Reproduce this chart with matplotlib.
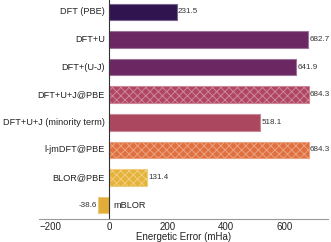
import numpy as np
import matplotlib
matplotlib.use("Agg")
import matplotlib.pyplot as plt
from matplotlib.colors import to_rgb

plt.rcParams['font.family'] = ['Liberation Sans', 'DejaVu Sans']
plt.rcParams['hatch.color'] = 'white'
plt.rcParams['hatch.linewidth'] = 0.7

methods = ["DFT (PBE)", "DFT+U", "DFT+(U-J)", "DFT+U+J@PBE",
           "DFT+U+J (minority term)", "l-jmDFT@PBE", "BLOR@PBE", "mBLOR"]
errors = [231.5, 682.7, 641.9, 684.3, 518.1, 684.3, 131.4, -38.6]
colors = ["#2f1450", "#6b2761", "#6b2761", "#b04662",
          "#ab485f", "#e0703f", "#e6b33a", "#e1ad38"]
hatches = [None, None, None, "xxxx", None, "xxxx", "xxxx", None]

fig = plt.figure(figsize=(3.31, 2.42), dpi=100)
ax = fig.add_axes([39 / 331, 1 - 219 / 242, (328 - 39) / 331, 219 / 242])

y = np.arange(len(methods))
for i in range(len(methods)):
    c = np.array(to_rgb(colors[i]))
    edge = c + (1 - c) * 0.35
    ax.barh(y[i], errors[i], height=0.6, color=colors[i], edgecolor=edge,
            linewidth=0.8, hatch=hatches[i])
    if errors[i] >= 0:
        ax.text(-14, y[i], methods[i], ha='right', va='center', fontsize=6.6, color='#222222')
        ax.text(errors[i] + 4, y[i], f"{errors[i]:.1f}", ha='left', va='center',
                fontsize=5.8, color='#333333')
    else:
        ax.text(14, y[i], methods[i], ha='left', va='center', fontsize=6.6, color='#222222')
        ax.text(errors[i] - 4, y[i], f"{errors[i]:.1f}", ha='right', va='center',
                fontsize=5.8, color='#333333')

ax.axvline(0, color='#333333', linewidth=0.8)
ax.set_xlim(-240, 750)
ax.set_ylim(7.5, -0.43)
ax.set_yticks([])
ax.set_xticks([-200, 0, 200, 400, 600])
ax.set_xticklabels(["\u2212200", "0", "200", "400", "600"])
ax.tick_params(axis='x', length=0, labelsize=7, pad=2, colors='#222222')
for s in ['top', 'right', 'left']:
    ax.spines[s].set_visible(False)
ax.spines['bottom'].set_color('#999999')
ax.spines['bottom'].set_linewidth(0.8)
ax.set_xlabel("Energetic Error (mHa)", fontsize=7, labelpad=0, color='#222222')

fig.savefig("out.png", dpi=100)
